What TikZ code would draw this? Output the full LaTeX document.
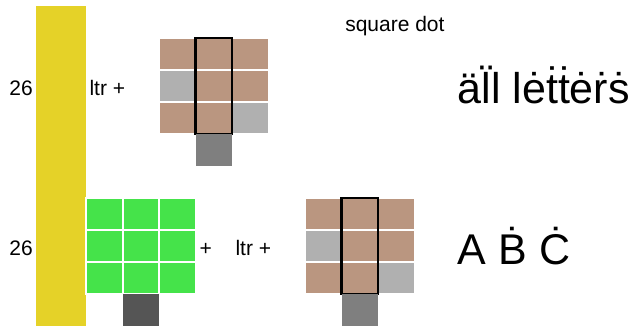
\documentclass[tikz,border=0pt]{standalone}
\usepackage{fontspec}
\setmainfont{Liberation Sans}
\usetikzlibrary{positioning}

\definecolor{baryel}{HTML}{E5D228}
\definecolor{brn}{HTML}{BA9680}
\definecolor{lgr}{HTML}{B0B0B0}
\definecolor{mgr}{HTML}{7F7F7F}
\definecolor{dgr}{HTML}{555555}
\definecolor{grn}{HTML}{45E34A}

\begin{document}
\begin{tikzpicture}[
    x=1pt, y=-1pt,
    bar/.style={fill=baryel, minimum width=50pt, minimum height=320pt,
                inner sep=0pt, outer sep=0pt},
    cell/.style={draw=white, line width=2pt, minimum width=36.5pt,
                 minimum height=32pt, inner sep=0pt, outer sep=0pt},
    foot/.style={minimum width=36.5pt, minimum height=32pt,
                 inner sep=0pt, outer sep=0pt},
    col/.style={draw=black, line width=2.2pt},
    lbl/.style={font=\fontsize{21}{25}\selectfont, inner sep=0pt},
    big/.style={font=\fontsize{43}{50}\selectfont, inner sep=0pt},
]
\useasboundingbox (0,0) rectangle (633,326);

% Yellow bar on the left
\node[bar] (bar) at (61,166) {};

% Counts
\node[lbl, anchor=base east] (n-top) at (33,95.5)  {26};
\node[lbl, anchor=base east] (n-bot) at (33,255.7) {26};

% Brown grids: top row and bottom row
\foreach \g/\gx/\gy in {t/159/38, b/305/198} {
  \foreach \r/\c/\f in {0/0/brn, 0/1/brn, 0/2/brn,
                        1/0/lgr, 1/1/brn, 1/2/brn,
                        2/0/brn, 2/1/brn, 2/2/lgr}
    \node[cell, fill=\f] (\g-\r-\c) at (\gx+18.25+36.5*\c, \gy+16+32*\r) {};
  % middle column outlined, with its foot
  \draw[col] (\g-0-1.north west) rectangle (\g-2-1.south east);
  \node[foot, fill=mgr, below=0pt of \g-2-1] (\g-foot) {};
}

% Green grid
\foreach \r in {0,1,2}
  \foreach \c in {0,1,2}
    \node[cell, fill=grn] (g-\r-\c) at (104.25+36.5*\c, 214+32*\r) {};
\node[foot, fill=dgr, below=0pt of g-2-1] (g-foot) {};

% Labels
\node[lbl, anchor=base west] (ltr-top) at (89.3,95.5)   {ltr +};
\node[lbl, anchor=base west] (plus)    at (199.3,255.7) {+};
\node[lbl, anchor=base west] (ltr-bot) at (235.3,255.7) {ltr +};
\node[lbl, anchor=base west] (title)   at (345.1,32)    {square dot};

% Sample text
\node[big, anchor=base west] (sample-top) at (457.5,103.3) {äl̈l lėṫṫėṙṡ};
\node[big, anchor=base west] (sample-bot) at (457.7,264.3) {A Ḃ Ċ};

\end{tikzpicture}
\end{document}
